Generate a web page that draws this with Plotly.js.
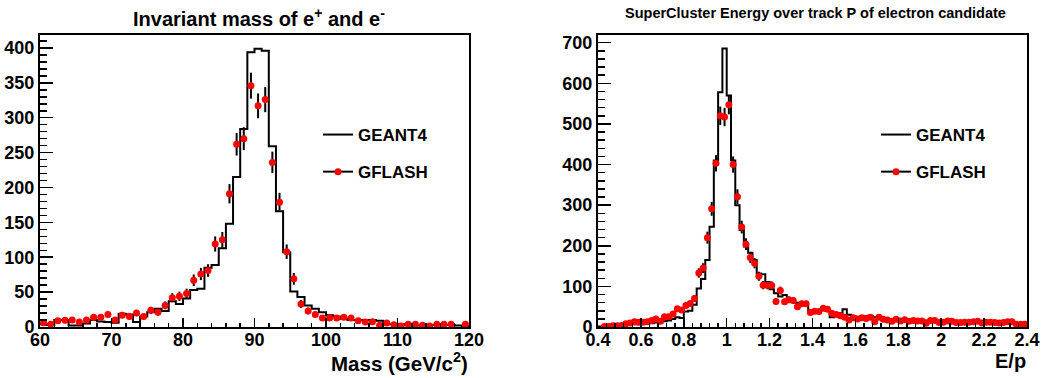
<!DOCTYPE html>
<html>
<head>
<meta charset="utf-8">
<script src="https://cdn.plot.ly/plotly-3.0.1.min.js"></script>
<style>html,body{margin:0;padding:0;background:#fff;}#chart{width:1043px;height:378px;}</style>
</head>
<body>
<div id="chart"></div>
<script>
// ---------- Data: invariant mass (1 GeV bins, 60..120) ----------
const massLow = 60, massWidth = 1;
const massGeant4 = [4,3,10,10,2,2,5,10,8,7, 6,19,18,7,15,21,26,23,37,33,
  41,53,55,85,89,113,148,215,284,394, 399,396,259,166,107,51,43,31,26,21,
  17,15,12,10,10,10,10,9,4,4, 4,3,3,2,3,3,3,3,2,1];
const massGflash = [6,4,9,9.5,10,7,10,14,14,18, 10,17,15,20,15,24,21,31,42,44,
  48,67,76,81,119,125,191,262,270,346, 317,326,236,179,108,69,33,23,18,13,
  13,13,14,13,9,7,7.5,2.4,5.7,3.3, 1.4,3.8,4,2.4,1.4,3.8,4,4,0,4];

// ---------- Data: E/p (0.02 bins, 0.4..2.4) ----------
const epLow = 0.4, epWidth = 0.02;
const epGeant4 = [1,1,2,3,3,4,5,6,7,7, 8,9,9,11,10,14,16,20,24,22,
  38,40,55,95,118,165,247,410,578,686, 570,410,300,239,198,183,165,132,130,111,
  93,83,75,79,69,62,60,54,55,40, 42,40,42,40,24,34,34,44,30,27,
  24,25,27,28,24,21,20,19,19,19, 20,18,19,18,17,17,16,16,16,15,
  15,15,14,14,14,13,13,13,13,12, 12,11,11,10,10,9,9,9,8,8];
const epGflash = [0,1,1,3,3,4,8,10,13,12, 12,13,16,20,14,25,25,32,45,42,
  53,58,70,133,145,220,291,403,520,517, 547,400,321,246,204,171,157,125,103,103,
  102,63,90,62,67,65,50,57,57,36, 39,38,46,44,34,31,28,24,17,23,
  20,23,21,24,13,24,19,17,14,19, 15,18,14,16,15,15,9,16,16,11,
  12,15,14,11,11,12,12,13,14,10, 12,12,11,10,11,13,13,7,7,7];

// ---------- Labels ----------
const seriesNames = ['GEANT4', 'GFLASH'];
const titleMass = 'Invariant mass of e<sup>+</sup> and e<sup>-</sup>';
const titleEp = 'SuperCluster Energy over track P of electron candidate';
const xLabelMass = 'Mass (GeV/c<sup>2</sup>)';
const xLabelEp = 'E/p';

// ---------- Helpers ----------
function stepTrace(low, width, vals, xa, ya, legend) {
  const x = [], y = [];
  for (let i = 0; i <= vals.length; i++) {
    x.push(low + i * width);
    y.push(vals[Math.min(i, vals.length - 1)]);
  }
  return {x, y, xaxis: xa, yaxis: ya, type: 'scatter', mode: 'lines',
    line: {shape: 'hv', color: 'black', width: 2}, name: seriesNames[0],
    legend: legend, legendgroup: 'g4' + xa, hoverinfo: 'skip'};
}
function pointTrace(low, width, vals, xa, ya) {
  const x = [], y = [], e = [];
  vals.forEach((v, i) => {
    if (v > 0) { x.push(low + (i + 0.5) * width); y.push(v); e.push(Math.sqrt(v)); }
  });
  return {x, y, xaxis: xa, yaxis: ya, type: 'scatter', mode: 'markers',
    marker: {color: '#ff0000', size: 7, line: {width: 0}},
    error_y: {type: 'data', array: e, visible: true, color: 'black', thickness: 2, width: 0},
    showlegend: false, hoverinfo: 'skip'};
}
function legendPoint(xa, ya, legend) {
  return {x: [null], y: [null], xaxis: xa, yaxis: ya, type: 'scatter', mode: 'lines+markers',
    line: {color: 'black', width: 2}, marker: {color: '#ff0000', size: 7},
    name: seriesNames[1], legend: legend, legendgroup: 'gf' + xa};
}

const traces = [
  stepTrace(massLow, massWidth, massGeant4, 'x', 'y', 'legend'),
  pointTrace(massLow, massWidth, massGflash, 'x', 'y'),
  legendPoint('x', 'y', 'legend'),
  stepTrace(epLow, epWidth, epGeant4, 'x2', 'y2', 'legend2'),
  pointTrace(epLow, epWidth, epGflash, 'x2', 'y2'),
  legendPoint('x2', 'y2', 'legend2')
];

const W = 1043, H = 378;
const tickFont = {family: 'Liberation Sans, Arial, sans-serif', size: 18, color: 'black', weight: 'bold'};
function axis(domain, range, dtick, tick0, minorDtick, len, extra) {
  return Object.assign({
    domain, range, dtick, tick0, autorange: false, automargin: false, tickangle: 0,
    ticks: 'inside', ticklen: len, tickwidth: 1.5, tickcolor: 'black',
    showline: true, linewidth: 2, linecolor: 'black', mirror: true,
    showgrid: false, zeroline: false, tickfont: tickFont, fixedrange: true,
    minor: {ticks: 'inside', ticklen: len / 2, dtick: minorDtick, tick0: tick0, tickwidth: 1.5, tickcolor: 'black', showgrid: false}
  }, extra || {});
}
const yDom = [1 - 327 / H, 1 - 35 / H];
const legendFont = {family: 'Liberation Sans, Arial, sans-serif', size: 17, color: 'black', weight: 'bold'};

const layout = {
  width: W, height: H,
  margin: {l: 0, r: 0, t: 0, b: 0, autoexpand: false},
  paper_bgcolor: 'white', plot_bgcolor: 'white',
  font: {family: 'Liberation Sans, Arial, sans-serif', color: 'black', weight: 'bold'},
  xaxis: axis([40 / W, 469 / W], [60, 120], 10, 60, 2, 9, {anchor: 'y', ticklabelstandoff: -5}),
  yaxis: axis(yDom, [0, 418.6], 50, 0, 10, 13, {anchor: 'x'}),
  xaxis2: axis([598 / W, 1027 / W], [0.4, 2.4], 0.2, 0.4, 0.04, 9, {anchor: 'y2', ticklabelstandoff: -5}),
  yaxis2: axis(yDom, [0, 719], 100, 0, 20, 13, {anchor: 'x2'}),
  showlegend: true,
  legend: {xref: 'container', yref: 'container', x: 318 / W, y: 1 - 117 / H, xanchor: 'left', yanchor: 'top',
    bgcolor: 'rgba(0,0,0,0)', borderwidth: 0, font: legendFont, traceorder: 'grouped', tracegroupgap: 12},
  legend2: {xref: 'container', yref: 'container', x: 876 / W, y: 1 - 117 / H, xanchor: 'left', yanchor: 'top',
    bgcolor: 'rgba(0,0,0,0)', borderwidth: 0, font: legendFont, traceorder: 'grouped', tracegroupgap: 12},
  annotations: [
    {text: titleMass, xref: 'paper', yref: 'paper', x: 259 / W, y: 1 - 17 / H, xanchor: 'center', yanchor: 'middle',
      showarrow: false, font: {size: 20, weight: 'bold'}},
    {text: titleEp, xref: 'paper', yref: 'paper', x: 815 / W, y: 1 - 13 / H, xanchor: 'center', yanchor: 'middle',
      showarrow: false, font: {size: 14.5, weight: 'bold'}},
    {text: xLabelMass, xref: 'paper', yref: 'paper', x: 470 / W, y: 1 - 362 / H, xanchor: 'right', yanchor: 'middle',
      showarrow: false, font: {size: 20.5, weight: 'bold'}},
    {text: xLabelEp, xref: 'paper', yref: 'paper', x: 1028 / W, y: 1 - 361 / H, xanchor: 'right', yanchor: 'middle',
      showarrow: false, font: {size: 20, weight: 'bold'}}
  ]
};

Plotly.newPlot('chart', traces, layout, {staticPlot: true, displayModeBar: false});
</script>
</body>
</html>
